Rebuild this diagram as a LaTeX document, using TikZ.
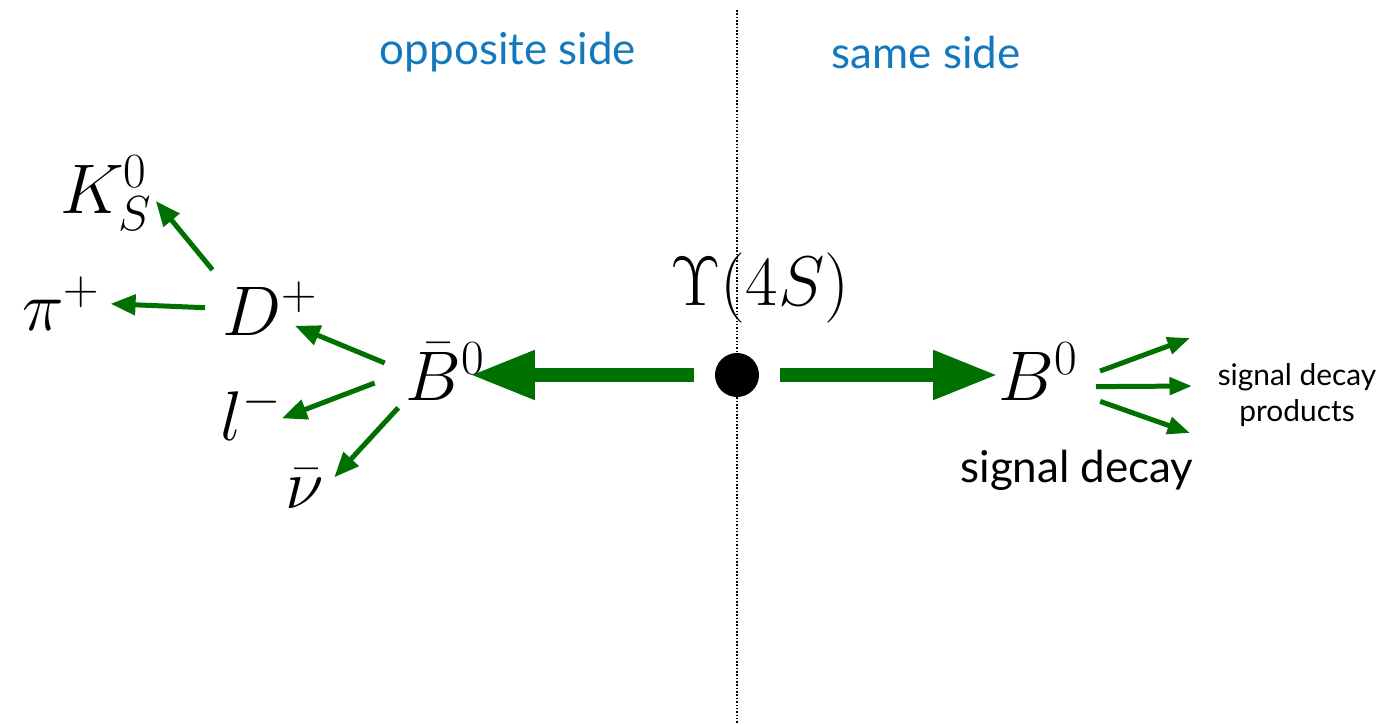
\documentclass[tikz,border=0pt]{standalone}
\usepackage{fix-cm}
\usepackage{fontspec}
\setsansfont{Lato}
\usetikzlibrary{positioning, arrows.meta, calc}

\definecolor{decaygreen}{RGB}{0,112,0}
\definecolor{sideblue}{RGB}{20,120,190}

\begin{document}
\begin{tikzpicture}[
  particle/.style={inner sep=0pt, anchor=base west, font=\fontsize{40}{44}\selectfont},
  sidelabel/.style={text=sideblue, font=\sffamily\fontsize{25}{30}\selectfont},
  caption/.style={font=\sffamily\fontsize{25}{30}\selectfont},
  smallcaption/.style={font=\sffamily\fontsize{17}{21}\selectfont, align=center},
  boost/.style={-{Triangle[length=1.3cm, width=0.92cm]}, line width=0.28cm, draw=decaygreen},
  decay/.style={-{Triangle[length=0.5cm, width=0.4cm]}, line width=0.1cm, draw=decaygreen},
  product/.style={-{Triangle[length=0.45cm, width=0.34cm]}, line width=0.1cm, draw=decaygreen},
]
\useasboundingbox (0,0) rectangle (27.72,-14.48);

% divider between the two sides
\coordinate (top) at (14.74,-0.2);
\coordinate (bottom) at (14.74,-14.48);
\draw[densely dotted, line width=0.9pt] (top) -- (bottom);

\node[sidelabel] (opp) at (10.16,-1.04) {opposite side};
\node[sidelabel] (same) at (18.52,-1.04) {same side};

% production point
\node[circle, fill=black, minimum size=0.88cm, inner sep=0pt] (ups) at (14.74,-7.5) {};
\node[particle] (upslabel) at (13.4,-6.1) {$\Upsilon(4S)$};

% tag side
\node[particle] (bbar) at (8.1,-8.0) {$\bar{B}^0$};
\node[particle] (dplus) at (4.44,-6.7) {$D^+$};
\node[particle] (piplus) at (0.44,-6.6) {$\pi^+$};
\node[particle] (kshort) at (1.2,-4.26) {$K_S^0$};
\node[particle] (lminus) at (4.4,-8.8) {$l^-$};
\node[particle] (nubar) at (5.7,-10.16) {$\bar{\nu}$};

% signal side
\node[particle] (bzero) at (19.96,-8.0) {$B^0$};
\node[caption] (sigdecay) at (21.54,-9.4) {signal decay};
\node[smallcaption] (products) at (25.94,-7.9) {signal decay\\products};
\coordinate (p1) at (23.8,-6.76);
\coordinate (p2) at (23.84,-7.72);
\coordinate (p3) at (23.8,-8.66);

\draw[boost, shorten <=0.42cm, shorten >=-0.3cm] (ups) -- (ups -| bbar.east);
\draw[boost, shorten <=0.42cm] (ups) -- (ups -| bzero.west);

\draw[decay, shorten <=0.44cm, shorten >=-0.5cm] (bbar.west) -- (dplus.south east);
\draw[decay, shorten <=0.65cm] (bbar.west) -- (lminus.-10);
\draw[decay, shorten <=0.2cm, shorten >=0.3cm] (bbar.south west) -- (nubar.east);
\draw[decay, shorten <=0.3cm, shorten >=0.1cm] (dplus.north west) -- (kshort.-5);
\draw[decay, shorten <=0.34cm, shorten >=0.2cm] (dplus.west) -- (piplus.east);

\draw[product, shorten <=0.47cm] (bzero.-11) -- (p1);
\draw[product, shorten <=0.36cm] (bzero.-21) -- (p2);
\draw[product, shorten <=0.47cm] (bzero.-29) -- (p3);

\end{tikzpicture}
\end{document}
